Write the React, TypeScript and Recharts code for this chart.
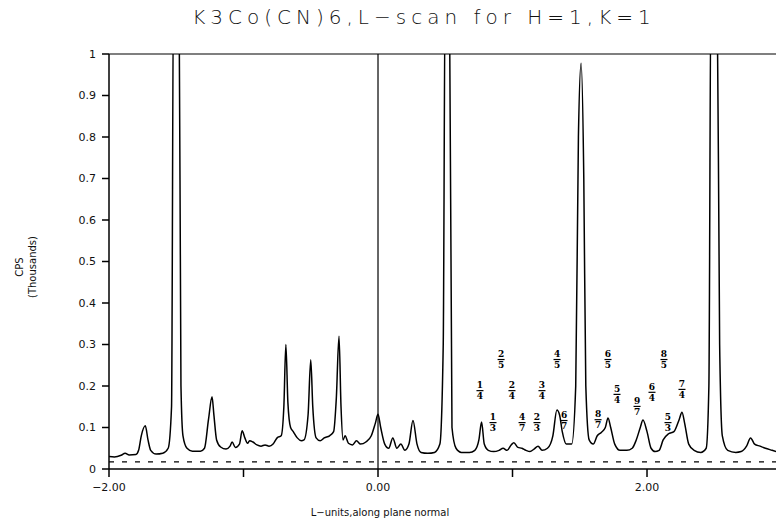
import React from 'react'
import { ComposedChart, Line, Scatter, XAxis, YAxis, ReferenceLine } from 'recharts'

// L position along the scan
const lValues = [
  -2.0, -1.96, -1.91, -1.88, -1.85, -1.8, -1.78, -1.76, -1.73, -1.71, -1.69, -1.65, -1.6, -1.56, -1.535, -1.52,
  -1.48, -1.465, -1.45, -1.42, -1.38, -1.32, -1.29, -1.26, -1.234, -1.22, -1.2, -1.17, -1.13, -1.1, -1.085, -1.06,
  -1.03, -1.01, -0.99, -0.97, -0.955, -0.93, -0.9, -0.87, -0.84, -0.81, -0.78, -0.75, -0.72, -0.7, -0.685, -0.67,
  -0.65, -0.63, -0.6, -0.57, -0.55, -0.52, -0.5, -0.485, -0.46, -0.43, -0.4, -0.36, -0.33, -0.31, -0.29, -0.275,
  -0.26, -0.245, -0.22, -0.19, -0.16, -0.13, -0.09, -0.05, -0.02, 0.0, 0.02, 0.05, 0.08, 0.11, 0.14, 0.17,
  0.2, 0.23, 0.26, 0.29, 0.32, 0.37, 0.42, 0.46, 0.485, 0.5, 0.53, 0.55, 0.58, 0.62, 0.68, 0.72,
  0.75, 0.77, 0.79, 0.82, 0.86, 0.9, 0.93, 0.96, 0.99, 1.01, 1.04, 1.07, 1.1, 1.13, 1.16, 1.19,
  1.22, 1.26, 1.3, 1.33, 1.35, 1.37, 1.4, 1.44, 1.47, 1.49, 1.51, 1.53, 1.545, 1.57, 1.6, 1.63,
  1.66, 1.69, 1.71, 1.73, 1.76, 1.8, 1.85, 1.89, 1.92, 1.95, 1.97, 2.0, 2.03, 2.06, 2.09, 2.12,
  2.16, 2.2, 2.24, 2.26, 2.28, 2.31, 2.35, 2.4, 2.44, 2.46, 2.476, 2.52, 2.54, 2.56, 2.6, 2.66,
  2.7, 2.74, 2.77, 2.8, 2.84, 2.88, 2.93, 2.96,
]

// counts (thousands)
const cpsValues = [
  0.03, 0.029, 0.033, 0.038, 0.034, 0.035, 0.045, 0.08, 0.104, 0.07, 0.045, 0.036, 0.038, 0.05, 0.15, 1.2,
  1.2, 0.2, 0.08, 0.05, 0.043, 0.043, 0.05, 0.12, 0.174, 0.13, 0.07, 0.053, 0.048, 0.055, 0.065, 0.052,
  0.06, 0.092, 0.075, 0.062, 0.068, 0.065, 0.058, 0.055, 0.058, 0.055, 0.06, 0.075, 0.08, 0.15, 0.3, 0.16,
  0.1, 0.09, 0.075, 0.068, 0.07, 0.13, 0.263, 0.15, 0.075, 0.068, 0.075, 0.08, 0.09, 0.17, 0.32, 0.15,
  0.07, 0.08, 0.062, 0.058, 0.068, 0.06, 0.065, 0.08, 0.11, 0.132, 0.1, 0.06, 0.05, 0.075, 0.05, 0.06,
  0.045, 0.06, 0.117, 0.06, 0.04, 0.038, 0.04, 0.06, 0.3, 1.2, 1.2, 0.1, 0.05, 0.04, 0.04, 0.045,
  0.07, 0.113, 0.06, 0.045, 0.042, 0.045, 0.05, 0.045, 0.058, 0.063, 0.052, 0.05, 0.045, 0.042, 0.048, 0.055,
  0.045, 0.05, 0.08, 0.142, 0.13, 0.09, 0.06, 0.06, 0.2, 0.8, 0.978, 0.7, 0.2, 0.07, 0.06, 0.08,
  0.088, 0.1, 0.123, 0.1, 0.06, 0.045, 0.045, 0.05, 0.07, 0.1, 0.118, 0.09, 0.05, 0.042, 0.045, 0.07,
  0.085, 0.09, 0.12, 0.137, 0.11, 0.06, 0.045, 0.04, 0.05, 0.2, 1.2, 1.2, 0.3, 0.08, 0.045, 0.04,
  0.042, 0.055, 0.075, 0.06, 0.055, 0.05, 0.045, 0.042,
]

// fraction annotations
const fracNum = ['1', '1', '2', '2', '4', '2', '3', '4', '6', '8', '6', '5', '9', '6', '8', '5', '7']
const fracDen = ['4', '3', '5', '4', '7', '3', '4', '5', '7', '7', '5', '4', '7', '4', '5', '3', '4']
const fracL = [0.758, 0.855, 0.915, 0.996, 1.071, 1.182, 1.219, 1.331, 1.383, 1.636, 1.71, 1.777, 1.926, 2.037, 2.126, 2.156, 2.26]
const fracY = [0.19, 0.113, 0.265, 0.19, 0.113, 0.113, 0.19, 0.265, 0.118, 0.12, 0.265, 0.181, 0.152, 0.186, 0.265, 0.113, 0.193]

const yTicks = [0, 0.1, 0.2, 0.3, 0.4, 0.5, 0.6, 0.7, 0.8, 0.9, 1]
const xTicks = [-2, -1, 0, 1, 2]
const baselineLevel = 0.017

const scan = lValues.map((l, i) => ({ L: l, cps: cpsValues[i] }))
const fractions = fracL.map((l, i) => ({ L: l, cps: fracY[i], num: fracNum[i], den: fracDen[i] }))

const FONT = '"DejaVu Sans", sans-serif'

function FractionMark(props: any) {
  const { cx, cy, payload } = props
  return (
    <g fontFamily='"DejaVu Serif", serif' fontSize={9} fontWeight="bold" fill="#000" textAnchor="middle">
      <text x={cx} y={cy - 2}>{payload.num}</text>
      <line x1={cx - 3.5} x2={cx + 3.5} y1={cy + 0.5} y2={cy + 0.5} stroke="#000" strokeWidth={1.2} />
      <text x={cx} y={cy + 9}>{payload.den}</text>
    </g>
  )
}

function fmtX(v: number) {
  if (v === -2) return '\u22122.00'
  if (v === 0) return '0.00'
  if (v === 2) return '2.00'
  return ''
}

function fmtY(v: number) {
  if (v === 0) return '0'
  if (v === 1) return '1'
  return v.toFixed(1)
}

export default function App() {
  return (
    <div style={{ position: 'absolute', left: 0, top: 0, width: 776, height: 523, background: '#fff' }}>
      <div
        style={{
          position: 'absolute', top: 5, left: 0, width: 848, textAlign: 'center',
          fontFamily: FONT, fontWeight: 300, fontSize: 20, letterSpacing: 5, color: '#111',
        }}
      >
        K3Co(CN)6,L−scan for H=1,K=1
      </div>
      <div style={{ position: 'absolute', left: 6, top: 268, width: 40, height: 0 }}>
        <div style={{ position: 'absolute', left: -30, top: -14, width: 100, transform: 'rotate(-90deg)', textAlign: 'center', fontFamily: FONT, fontSize: 10, lineHeight: '13px', color: '#111' }}>
          CPS<br />(Thousands)
        </div>
      </div>
      <div style={{ position: 'absolute', left: 280, top: 507, width: 200, textAlign: 'center', fontFamily: FONT, fontSize: 10, color: '#111' }}>
        L−units,along plane normal
      </div>
      <ComposedChart width={776} height={523} margin={{ top: 54, right: 0, bottom: 0, left: 0 }}>
        <XAxis
          type="number"
          dataKey="L"
          domain={[-2, 2.959]}
          allowDataOverflow
          ticks={xTicks}
          tickFormatter={fmtX}
          height={54}
          stroke="#000"
          strokeWidth={1.5}
          tickSize={8}
          tickMargin={6}
          tick={{ fontFamily: FONT, fontSize: 11, fill: '#111' }}
        />
        <YAxis
          type="number"
          dataKey="cps"
          domain={[0, 1]}
          allowDataOverflow
          ticks={yTicks}
          tickFormatter={fmtY}
          width={109}
          stroke="#000"
          strokeWidth={1.5}
          tickSize={7}
          tickMargin={6}
          tick={{ fontFamily: FONT, fontSize: 11, fill: '#111' }}
        />
        <ReferenceLine y={1} stroke="#000" strokeWidth={1.2} />
        <ReferenceLine x={0} stroke="#000" strokeWidth={1.2} />
        <ReferenceLine y={baselineLevel} stroke="#000" strokeWidth={1.2} strokeDasharray="5 8" />
        <Line
          data={scan}
          dataKey="cps"
          type="monotone"
          stroke="#000"
          strokeWidth={1.5}
          dot={false}
          isAnimationActive={false}
        />
        <Scatter data={fractions} dataKey="cps" shape={FractionMark} isAnimationActive={false} />
      </ComposedChart>
    </div>
  )
}
